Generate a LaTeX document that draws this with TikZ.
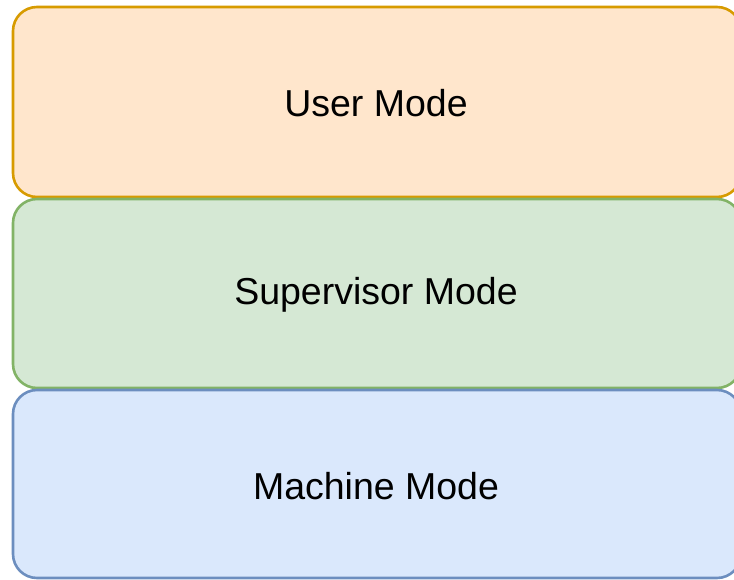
\documentclass[tikz,border=0pt]{standalone}
\usepackage{fontspec}
\setmainfont{Liberation Sans}
\definecolor{ufill}{HTML}{FFE6CC}
\definecolor{udraw}{HTML}{D79B00}
\definecolor{sfill}{HTML}{D5E8D4}
\definecolor{sdraw}{HTML}{82B366}
\definecolor{mfill}{HTML}{DAE8FC}
\definecolor{mdraw}{HTML}{6C8EBF}
\begin{document}
\begin{tikzpicture}[x=1pt,y=-1pt,
  modebox/.style={rounded corners=24pt,line width=2.6pt},
  modelabel/.style={font=\fontsize{37.5}{44}\selectfont,text=black}]
\useasboundingbox (0,0) rectangle (734,580);
\fill[white] (0,0) rectangle (734,580);
\draw[modebox,fill=ufill,draw=udraw] (13,7) rectangle (741,197);
\draw[modebox,fill=sfill,draw=sdraw] (13,199) rectangle (741,388);
\draw[modebox,fill=mfill,draw=mdraw] (13,390) rectangle (741,578);
\node[modelabel] (user) at (376,103) {User Mode};
\node[modelabel] (sup) at (376,295) {Supervisor Mode};
\node[modelabel] (mach) at (376,486) {Machine Mode};
\end{tikzpicture}
\end{document}
